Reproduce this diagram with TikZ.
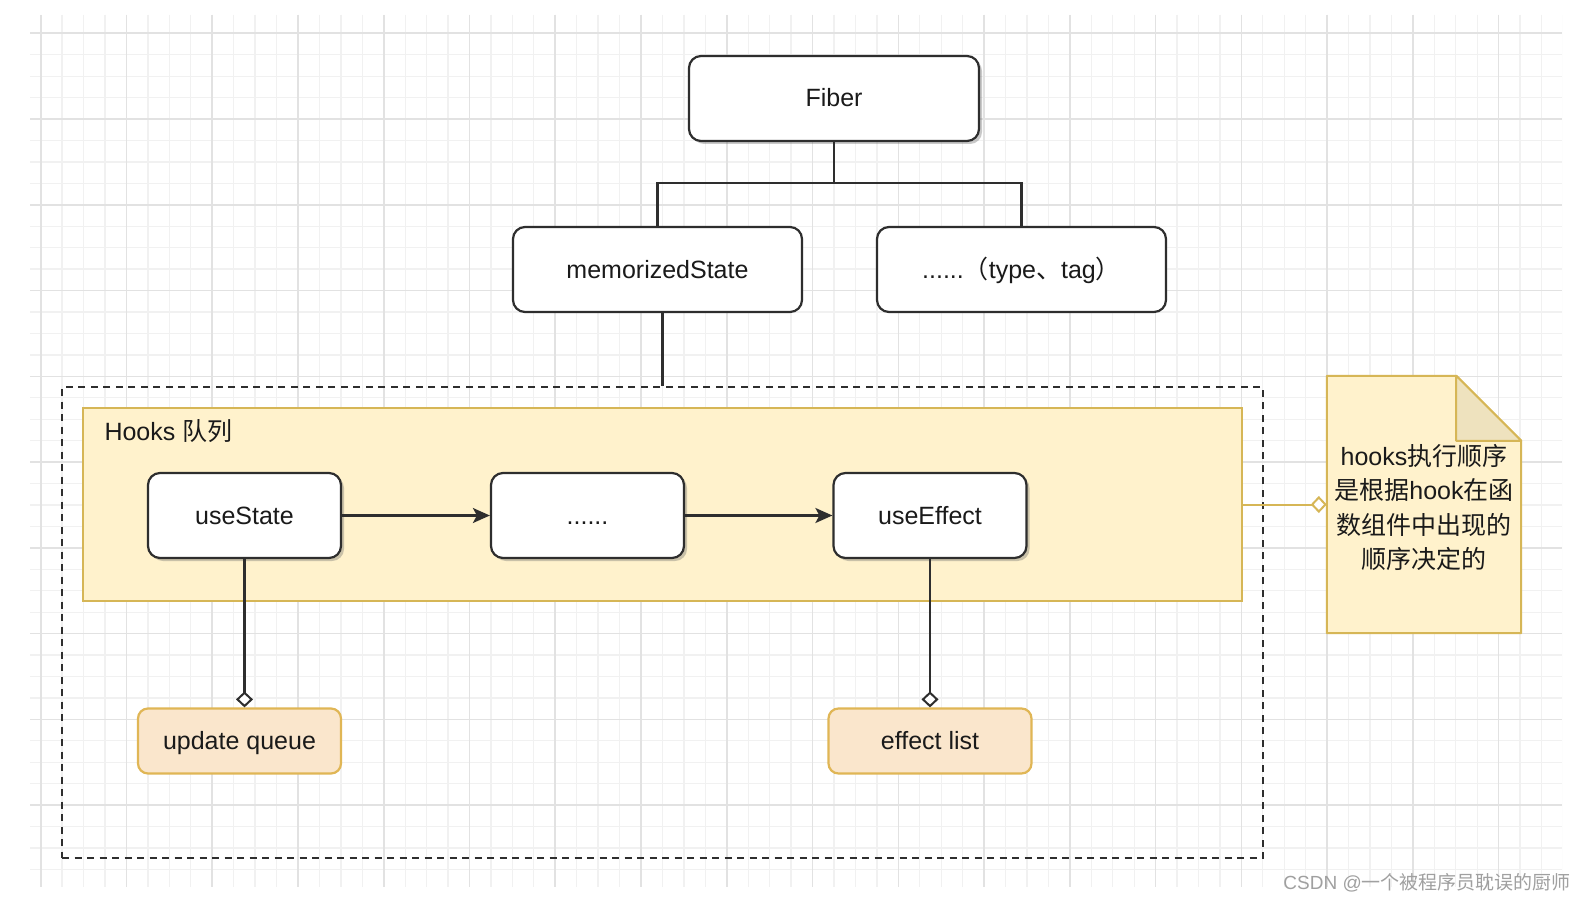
\documentclass[tikz,border=0pt]{standalone}
\usepackage{fontspec}
\setmainfont{Liberation Sans}
\newfontfamily\cjk{Noto Sans CJK SC}
\usetikzlibrary{arrows.meta,shadows,calc}
\definecolor{edgec}{HTML}{2E2E2E}
\definecolor{txtc}{HTML}{1A1A1A}
\definecolor{ylwfill}{HTML}{FFF2CC}
\definecolor{ylwline}{HTML}{D6B656}
\definecolor{orgfill}{HTML}{FAE6CC}
\definecolor{orgline}{HTML}{E0B655}
\definecolor{foldc}{HTML}{EEE2BE}
\definecolor{gridmin}{HTML}{F1F1F1}
\definecolor{gridmaj}{HTML}{E2E2E2}
\definecolor{wmc}{HTML}{A0A0A0}
\begin{document}
\begin{tikzpicture}[x=1pt,y=-1pt,
  lbl/.style={font=\fontsize{25}{30}\selectfont, text=txtc},
  wbox/.style={lbl, draw=edgec, line width=2.2pt, fill=white, rounded corners=12pt,
    minimum width=290pt, minimum height=85pt, inner sep=0pt, text height=17pt, text depth=0pt},
  sbox/.style={wbox, drop shadow={shadow xshift=3pt, shadow yshift=-3pt, opacity=0.35, fill=black!60}},
  hbox/.style={sbox, minimum width=193pt},
  obox/.style={lbl, draw=orgline, fill=orgfill, line width=2.2pt, rounded corners=10pt,
    minimum width=203pt, minimum height=65pt, inner sep=0pt, text height=17pt, text depth=0pt},
  conn/.style={draw=edgec, line width=2.2pt},
  dtip/.style={-{Diamond[length=16pt,width=17pt,fill=white,line width=2pt]}},
  atip/.style={-{Stealth[length=17pt,width=15pt,inset=4pt]}},
]
\useasboundingbox[fill=white] (0,0) rectangle (1586,904);
% grid
\begin{scope}
\clip (30,15) rectangle (1562,887);
\foreach \k in {0,...,71} \draw[gridmin, line width=1.3pt] ({40.7+\k*21.44},15) -- ++(0,872);
\foreach \k in {-1,...,39} \draw[gridmin, line width=1.3pt] (30,{33.3+\k*21.44}) -- ++(1532,0);
\foreach \k in {0,...,17} \draw[gridmaj, line width=1.6pt] ({40.7+\k*85.76},15) -- ++(0,872);
\foreach \k in {0,...,9} \draw[gridmaj, line width=1.6pt] (30,{33.3+\k*85.76}) -- ++(1532,0);
\end{scope}

% containers
\node[draw=edgec, dashed, dash pattern=on 7pt off 5.5pt, line width=2.2pt,
  minimum width=1201pt, minimum height=471pt, inner sep=0pt] (group) at (662.5,622.5) {};
\node[draw=ylwline, fill=ylwfill, line width=2pt, minimum width=1159pt, minimum height=193pt,
  inner sep=0pt] (hooks) at (662.5,504.5) {};
\node[lbl, anchor=west] (hookslbl) at (101,431) {Hooks {\cjk 队列}};

% top nodes
\node[sbox] (fiber) at (834,98.5) {Fiber};
\node[wbox, minimum width=289pt] (mem) at (657.5,269.5) {memorizedState};
\node[wbox, minimum width=289pt] (typ) at (1021.5,269.5) {......{\cjk （}type{\cjk 、}tag{\cjk ）}};
\coordinate (split) at (834,183);
\draw[conn] (fiber.south) -- (split) -| (mem.north);
\draw[conn] (split) -| (typ.north);
\draw[conn] (group.north |- mem.south) -- (group.north);

% hooks
\node[hbox] (us) at (244.5,515.5) {useState};
\node[hbox] (dots) at (587.5,515.5) {......};
\node[hbox] (ue) at (930,515.5) {useEffect};
\draw[conn, atip] (us.east) -- (dots.west);
\draw[conn, atip] (dots.east) -- (ue.west);

\node[obox] (uq) at (239.5,741) {update queue};
\node[obox] (el) at (930,741) {effect list};
\draw[conn, dtip] (us.south) -- (us.south |- uq.north);
\draw[conn, dtip] (ue.south) -- (ue.south |- el.north);

% note
\node[minimum width=194pt, minimum height=257pt, inner sep=0pt] (note) at (1424,504.5) {};
\draw[draw=ylwline, fill=ylwfill, line width=2pt, line join=round]
  (note.north west) -- ($(note.north east)+(-65,0)$) -- ($(note.north east)+(0,65)$)
  -- (note.south east) -- (note.south west) -- cycle;
\draw[draw=ylwline, fill=foldc, line width=2pt, line join=round]
  ($(note.north east)+(-65,0)$) -- ($(note.north east)+(-65,65)$) -- ($(note.north east)+(0,65)$) -- cycle;
\node[lbl, align=center, font=\fontsize{25}{34.4}\selectfont] (notetext) at (1424,507.5)
  {hooks{\cjk 执行顺序}\\{\cjk 是根据}hook{\cjk 在函}\\{\cjk 数组件中出现的}\\{\cjk 顺序决定的}};
\draw[draw=ylwline, line width=2pt, -{Diamond[length=16pt,width=17pt,fill=white,line width=2pt]}] (hooks.east) -- (note.west);

% watermark
\node[anchor=east, font=\fontsize{19}{22}\selectfont, text=wmc, inner sep=0pt] (wm) at (1571,883)
  {CSDN @{\cjk 一个被程序员耽误的厨师}};
\end{tikzpicture}
\end{document}
